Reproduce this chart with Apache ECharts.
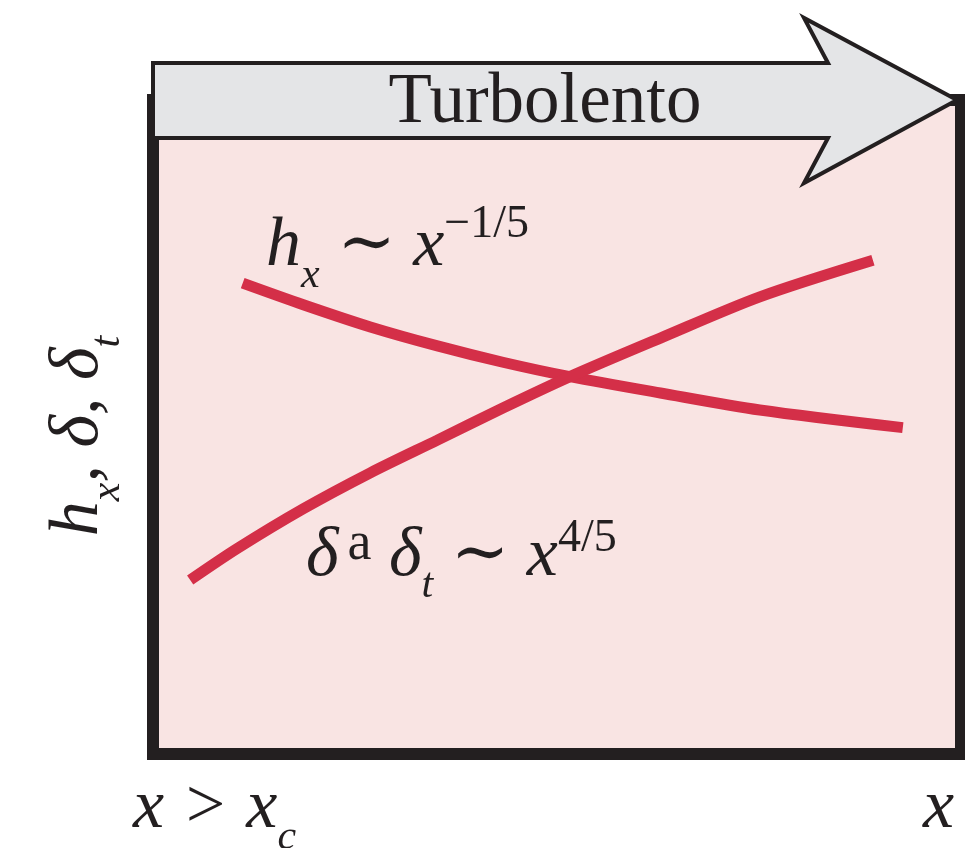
<!DOCTYPE html>
<html>
<head>
<meta charset="utf-8">
<script src="https://cdn.jsdelivr.net/npm/echarts@6/dist/echarts.min.js"></script>
<style>
html,body{margin:0;padding:0;background:#fff;}
#chart{width:965px;height:848px;}
</style>
</head>
<body>
<div id="chart"></div>
<script>
// Schematic values (arbitrary units, 0..100)
var hxX = [11.1, 18.6, 26.9, 35.2, 43.3, 51.6, 62.8, 75.1, 92.8];
var hxY = [72.0, 68.7, 65.3, 62.4, 59.9, 57.7, 55.2, 52.6, 49.9];
var deltaX = [4.6, 10.4, 18.6, 26.9, 35.2, 43.3, 51.6, 62.8, 75.1, 89.1];
var deltaY = [26.6, 31.4, 37.5, 43.0, 48.0, 52.9, 57.7, 63.6, 69.9, 75.5];

var titleText = 'Turbolento';
var yLabelText = '{m|h}{s|x}{m|, δ, δ}{s|t}';
var hxLabel = '{m|h}{s|x}{m| ∼ x}{p|−1/5}';
var deltaLabel = '{m|δ}{u|a}{m| δ}{s|t}{m| ∼ x}{q|4/5}';
var xStartLabel = '{m|x > x}{s|c}';
var xEndLabel = '{m|x}';

function pairs(xs, ys) { return xs.map(function (x, i) { return [x, ys[i]]; }); }

var SERIF = '"Liberation Serif", "DejaVu Serif", serif';
var INK = '#231f20';
var RED = '#d42f48';
var rich = {
  m: { fontFamily: SERIF, fontStyle: 'italic', fontSize: 70, lineHeight: 100, fill: INK },
  s: { fontFamily: SERIF, fontStyle: 'italic', fontSize: 42, lineHeight: 42, verticalAlign: 'bottom', fill: INK },
  p: { fontFamily: SERIF, fontStyle: 'normal', fontSize: 46, verticalAlign: 'top', padding: [5, 0, 0, 0], fill: INK },
  q: { fontFamily: SERIF, fontStyle: 'normal', fontSize: 46, verticalAlign: 'top', padding: [9, 0, 0, 0], fill: INK },
  u: { fontFamily: SERIF, fontStyle: 'normal', fontSize: 54, verticalAlign: 'middle', padding: [0, 0, 24, 9], fill: INK }
};

var chart = echarts.init(document.getElementById('chart'), null, { renderer: 'canvas' });
chart.setOption({
  animation: false,
  backgroundColor: '#ffffff',
  grid: {
    show: true,
    left: 153, right: 4, top: 100, bottom: 94,
    containLabel: false,
    outerBoundsMode: 'none',
    backgroundColor: '#f9e4e3',
    borderColor: INK,
    borderWidth: 12
  },
  xAxis: { type: 'value', min: 0, max: 100, show: false },
  yAxis: { type: 'value', min: 0, max: 100, show: false },
  series: [
    {
      name: 'h_x', type: 'line', smooth: 0.3, showSymbol: false,
      data: pairs(hxX, hxY),
      lineStyle: { color: RED, width: 11, cap: 'butt' }, z: 5
    },
    {
      name: 'delta', type: 'line', smooth: 0.3, showSymbol: false,
      data: pairs(deltaX, deltaY),
      lineStyle: { color: RED, width: 11, cap: 'butt' }, z: 5
    }
  ],
  graphic: [
    {
      type: 'polygon', z: 100,
      shape: { points: [[153, 63], [828, 63], [804, 18], [957, 100], [804, 183], [828, 138], [153, 138]] },
      style: { fill: '#e4e5e7', stroke: INK, lineWidth: 4, lineJoin: 'miter' }
    },
    {
      type: 'text', z: 101, x: 545, y: 103,
      style: { text: titleText, fontFamily: SERIF, fontSize: 71, fill: INK, align: 'center', verticalAlign: 'middle' }
    },
    {
      type: 'text', z: 101, x: 79, y: 436, rotation: Math.PI / 2,
      style: { text: yLabelText, rich: rich, align: 'center', verticalAlign: 'middle' }
    },
    {
      type: 'text', z: 101, x: 266, y: 197,
      style: { text: hxLabel, rich: rich, align: 'left', verticalAlign: 'top' }
    },
    {
      type: 'text', z: 101, x: 306, y: 507,
      style: { text: deltaLabel, rich: rich, align: 'left', verticalAlign: 'top' }
    },
    {
      type: 'text', z: 101, x: 133, y: 759,
      style: { text: xStartLabel, rich: rich, align: 'left', verticalAlign: 'top' }
    },
    {
      type: 'text', z: 101, x: 923, y: 759,
      style: { text: xEndLabel, rich: rich, align: 'left', verticalAlign: 'top' }
    }
  ]
});
</script>
</body>
</html>
